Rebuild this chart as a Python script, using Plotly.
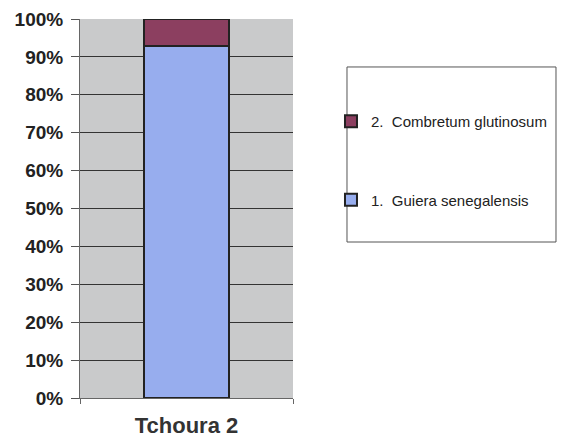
import plotly.graph_objects as go

# Data
sites = ["Tchoura 2"]
guiera = [93]
combretum = [7]
series_names = ["1.  Guiera senegalensis", "2.  Combretum glutinosum"]
y_ticks = [0, 10, 20, 30, 40, 50, 60, 70, 80, 90, 100]
y_labels = [f"{v}%" for v in y_ticks]

fig = go.Figure()

fig.add_trace(
    go.Bar(
        x=sites,
        y=guiera,
        name=series_names[0],
        legendgroup="g1",
        legendrank=2,
        marker=dict(color="#97adee", line=dict(color="#222222", width=2)),
        width=0.4,
    )
)
fig.add_trace(
    go.Bar(
        x=sites,
        y=combretum,
        name=series_names[1],
        legendgroup="g2",
        legendrank=1,
        marker=dict(color="#8c3f60", line=dict(color="#222222", width=2)),
        width=0.4,
    )
)

# legend frame (drawn separately so the items can sit inside a tall box)
fig.add_shape(
    type="rect",
    xref="paper",
    yref="paper",
    x0=1.2535,
    x1=2.2347,
    y0=0.4116,
    y1=0.8734,
    line=dict(color="#555555", width=1),
    fillcolor="white",
    layer="below",
)

# page has an 8px body margin, so keep the figure smaller than the window
fig.update_layout(
    barmode="stack",
    width=559,
    height=430,
    margin=dict(l=72, r=274, t=11, b=40),
    paper_bgcolor="white",
    plot_bgcolor="#c9cacb",
    font=dict(family="Liberation Sans, Arial", color="#222222"),
    showlegend=True,
    legend=dict(
        xref="container",
        yref="container",
        x=0.5778,
        y=0.7744,
        xanchor="left",
        yanchor="top",
        traceorder="grouped",
        tracegroupgap=56,
        bgcolor="rgba(0,0,0,0)",
        borderwidth=0,
        font=dict(size=15, family="Liberation Sans, Arial", color="#222222"),
        itemwidth=30,
    ),
    xaxis=dict(
        automargin=False,
        showgrid=False,
        showline=True,
        linecolor="#666666",
        linewidth=1,
        ticks="outside",
        tickson="boundaries",
        ticklen=5,
        tickcolor="#666666",
        ticklabelstandoff=8,
        tickfont=dict(size=22, family="Liberation Sans, Arial", color="#333333", weight="bold"),
    ),
    yaxis=dict(
        automargin=False,
        range=[0, 100],
        tickvals=y_ticks,
        ticktext=y_labels,
        showgrid=True,
        gridcolor="#333333",
        gridwidth=1,
        showline=True,
        linecolor="#666666",
        ticks="outside",
        ticklen=8,
        tickcolor="#555555",
        ticklabelstandoff=4,
        tickfont=dict(size=19, family="Liberation Sans, Arial", color="#222222", weight="bold"),
        zeroline=False,
    ),
)

fig.write_html("out.html")
